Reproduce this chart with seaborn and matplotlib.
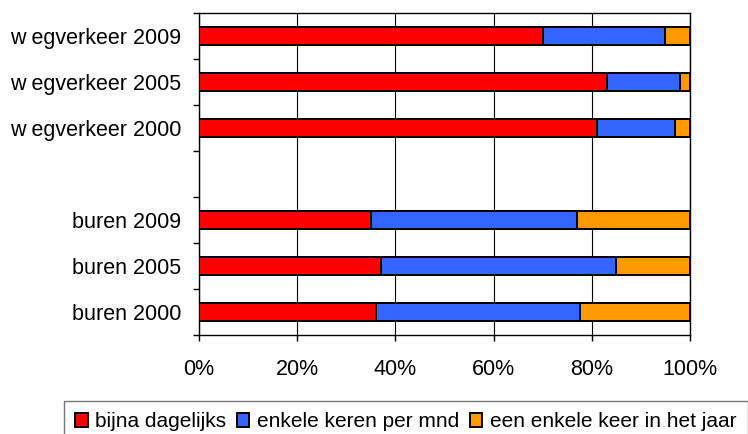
import numpy as np
import pandas as pd
import matplotlib
matplotlib.use("Agg")
import matplotlib.pyplot as plt
import seaborn as sns
from matplotlib.patches import Patch
from matplotlib.ticker import FixedLocator, PercentFormatter

# data (percentages), top to bottom; blank slot is the gap between the groups
categories = ["w egverkeer 2009", "w egverkeer 2005", "w egverkeer 2000", " ",
              "buren 2009", "buren 2005", "buren 2000"]
dagelijks = [70, 83, 81, np.nan, 35, 37, 36]
per_maand = [25, 15, 16, np.nan, 42, 48, 41.6]
per_jaar = [5, 2, 3, np.nan, 23, 15, 22.4]
series = ["bijna dagelijks", "enkele keren per mnd", "een enkele keer in het jaar"]
colors = ["#FF0000", "#3366FF", "#FF9900"]

df = pd.DataFrame({"cat": categories, "d": dagelijks, "m": per_maand, "j": per_jaar})
df["c1"] = df["d"]
df["c2"] = df["d"] + df["m"]
df["c3"] = df["d"] + df["m"] + df["j"]
df = df.dropna()

sns.set_style("white")
plt.rcParams["font.family"] = ["Liberation Sans", "DejaVu Sans"]
plt.rcParams["text.color"] = "black"
plt.rcParams["xtick.color"] = "black"
plt.rcParams["ytick.color"] = "black"

fs = 15.5
fig = plt.figure(figsize=(7.48, 4.34), dpi=100)
ax = fig.add_axes([199 / 748, 1 - 335 / 434, 491 / 748, 322 / 434])

# stacked bars: draw the cumulative totals from back to front
for col, c in zip(["c3", "c2", "c1"], colors[::-1]):
    sns.barplot(data=df, x=col, y="cat", order=categories, color=c, orient="h",
                width=0.385, edgecolor="black", linewidth=1.4, saturation=1,
                ax=ax, zorder=3)

ax.set_xlim(0, 100)
ax.set_ylim(6.5, -0.5)
ax.set_xlabel("")
ax.set_ylabel("")
ax.xaxis.set_major_locator(FixedLocator([0, 20, 40, 60, 80, 100]))
ax.xaxis.set_major_formatter(PercentFormatter(decimals=0))
ax.grid(axis="x", color="black", linewidth=0.8, zorder=0)
ax.grid(axis="y", visible=False)
for s in ax.spines.values():
    s.set_color("black")
    s.set_linewidth(1)

ax.yaxis.set_minor_locator(FixedLocator(np.arange(-0.5, 7, 1)))
ax.tick_params(axis="y", which="major", length=0, pad=13, labelsize=fs,
               labelcolor="black")
ax.tick_params(axis="y", which="minor", left=True, length=4.5, width=1, color="black")
ax.tick_params(axis="x", which="major", bottom=True, length=4.5, width=1,
               color="black", pad=13, labelsize=fs, labelcolor="black")

handles = [Patch(facecolor=c, edgecolor="black", linewidth=1.4) for c in colors]
leg = fig.legend(handles, series, loc="upper left",
                 bbox_to_anchor=(64 / 748, 1 - 401 / 434),
                 ncol=3, fontsize=15, frameon=True, fancybox=False,
                 edgecolor="#555555", handlelength=0.58, handleheight=0.67,
                 handletextpad=0.38, columnspacing=0.5, borderpad=0.55,
                 borderaxespad=0)
for t in leg.get_texts():
    t.set_color("black")

fig.savefig("out.png", dpi=100)
